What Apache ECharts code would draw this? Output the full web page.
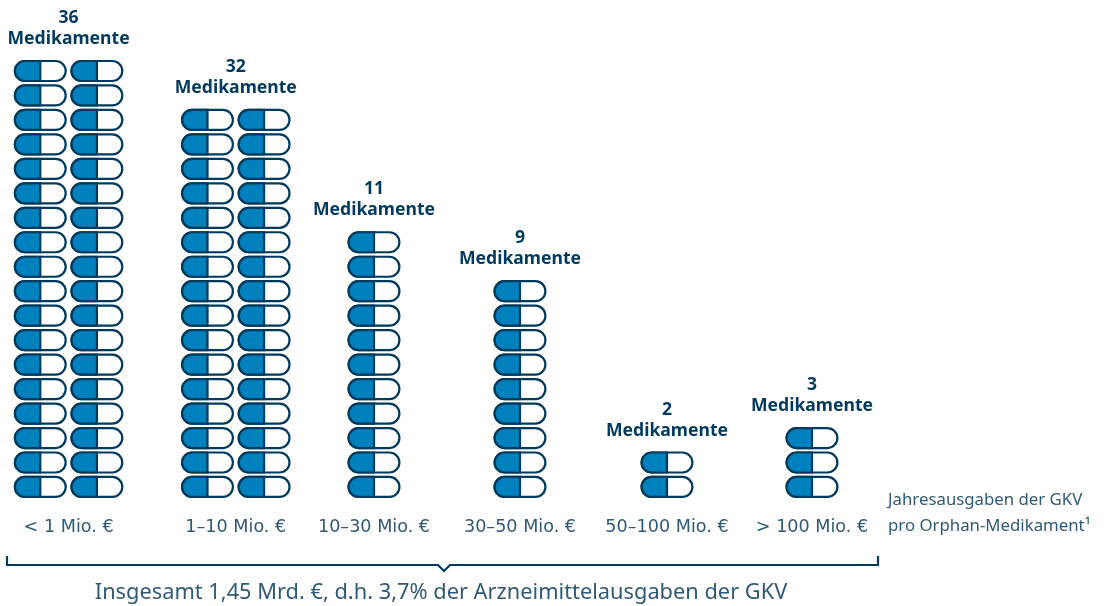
<!DOCTYPE html>
<html>
<head>
<meta charset="utf-8">
<style>
  html, body { margin: 0; padding: 0; background: #fff; }
  #main { width: 1106px; height: 606px; }
</style>
<script src="https://cdn.jsdelivr.net/npm/echarts@6/dist/echarts.min.js"></script>
</head>
<body>
<div id="main"></div>
<script>
// values
const categories = ["< 1 Mio. €", "1–10 Mio. €", "10–30 Mio. €", "30–50 Mio. €", "50–100 Mio. €", "> 100 Mio. €"];
const medikamente = [36, 32, 11, 9, 2, 3];
const columnsPerGroup = [2, 2, 1, 1, 1, 1];
const unitLabel = "Medikamente";
const axisNote = ["Jahresausgaben der GKV", "pro Orphan-Medikament¹"];
const totalLabel = "Insgesamt 1,45 Mrd. €, d.h. 3,7% der Arzneimittelausgaben der GKV";

// layout, the x axis runs in page pixels because the groups are not evenly spaced
const groupCenters = [68.6, 235.8, 374, 520, 667, 812];
const columnPitch = 56.6;
const rowPitch = 24.47;
const axisY = 499.2;
const maxRows = 20;
const capW = 50.8;
const capH = 20;

const DARK = "#003a5c";
const BLUE = "#0080bd";
const GREY = "#2f5a75";
const FONT = "Noto Sans";

// one row per capsule: group, column, row
const capsules = [];
medikamente.forEach((n, g) => {
  const cols = columnsPerGroup[g];
  for (let i = 0; i < n; i++) {
    capsules.push([g, i % cols, Math.floor(i / cols)]);
  }
});

function renderCapsule(params, api) {
  const g = api.value(0);
  const cols = columnsPerGroup[g];
  const dataX = groupCenters[g] + (api.value(1) - (cols - 1) / 2) * columnPitch;
  const p = api.coord([dataX, api.value(2) + 0.5]);
  const x = p[0] - capW / 2;
  const y = p[1] - capH / 2;
  const r = capH / 2;
  return {
    type: "group",
    children: [
      {
        type: "rect",
        shape: { x: x, y: y, width: capW, height: capH, r: r },
        style: { fill: "#fff", stroke: DARK, lineWidth: 2.2 }
      },
      {
        type: "rect",
        shape: { x: x, y: y, width: capW / 2, height: capH, r: [r, 0, 0, r] },
        style: { fill: BLUE, stroke: DARK, lineWidth: 2.2 }
      }
    ]
  };
}

function renderGroupLabel(params, api) {
  const g = api.value(0);
  const rows = Math.ceil(api.value(1) / columnsPerGroup[g]);
  const p = api.coord([groupCenters[g], rows - 0.5]);
  const font = "bold 17.6px '" + FONT + "'";
  return {
    type: "group",
    children: [
      {
        type: "text",
        style: { x: p[0], y: p[1] - 53, text: String(api.value(1)), fill: DARK, font: font, align: "center", verticalAlign: "middle" }
      },
      {
        type: "text",
        style: { x: p[0], y: p[1] - 32, text: unitLabel, fill: DARK, font: font, align: "center", verticalAlign: "middle" }
      }
    ]
  };
}

const chart = echarts.init(document.getElementById("main"));
chart.setOption({
  animation: false,
  backgroundColor: "#fff",
  grid: { left: 0, right: 0, top: axisY - rowPitch * maxRows, height: rowPitch * maxRows },
  xAxis: {
    type: "value",
    min: 0,
    max: 1106,
    splitLine: { show: false },
    axisLine: { show: false },
    axisTick: { show: false },
    axisLabel: {
      customValues: groupCenters,
      formatter: (v) => categories[groupCenters.indexOf(v)],
      color: GREY,
      fontFamily: "DejaVu Sans",
      fontSize: 17.6,
      margin: 19,
      hideOverlap: false
    }
  },
  yAxis: { type: "value", min: 0, max: maxRows, show: false },
  graphic: [
    {
      type: "polyline",
      shape: { points: [[7, 556], [7, 565], [438, 565], [444, 571], [450, 565], [878, 565], [878, 556]] },
      style: { fill: "none", stroke: DARK, lineWidth: 2.2 }
    },
    { type: "text", style: { x: 441, y: 593, text: totalLabel, fill: GREY, font: "21.8px '" + FONT + "'", align: "center", verticalAlign: "middle" } },
    { type: "text", style: { x: 888, y: 500, text: axisNote[0], fill: GREY, font: "16.8px '" + FONT + "'", verticalAlign: "middle" } },
    { type: "text", style: { x: 888, y: 526, text: axisNote[1], fill: GREY, font: "16.8px '" + FONT + "'", verticalAlign: "middle" } }
  ],
  series: [
    {
      type: "custom",
      name: "capsules",
      renderItem: renderCapsule,
      encode: { x: 0, y: 2 },
      data: capsules,
      clip: false
    },
    {
      type: "custom",
      name: "labels",
      renderItem: renderGroupLabel,
      data: medikamente.map((n, g) => [g, n]),
      clip: false
    }
  ]
});
</script>
</body>
</html>
